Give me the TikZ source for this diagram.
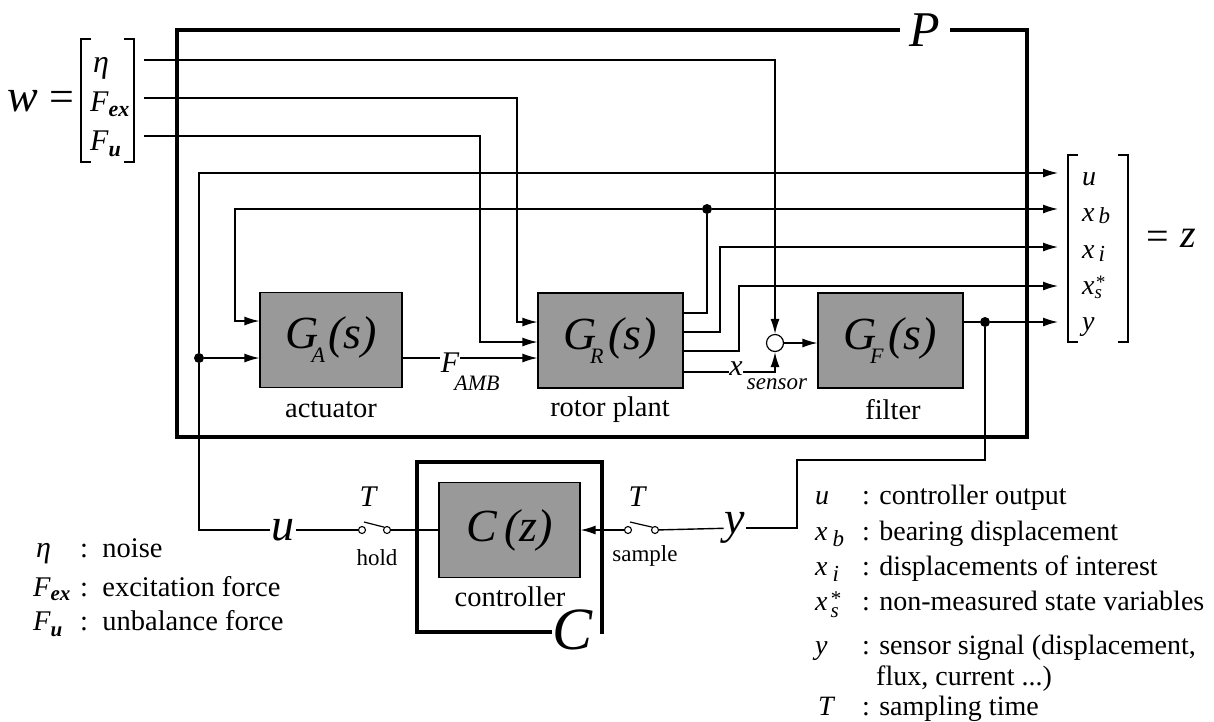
\documentclass[tikz,border=0pt]{standalone}
\usepackage{fontspec}
\setmainfont{Liberation Serif}
\usetikzlibrary{arrows.meta}
\newcommand\fsz[1]{\fontsize{#1}{#1}\selectfont}
\newcommand\lsub[3]{\raisebox{#1}{\fsz{#2}#3}}
\begin{document}
\begin{tikzpicture}[x=1pt,y=-1pt,
 ln/.style={line width=1.4pt},
 arr/.style={line width=1.4pt,-{Latex[length=15pt,width=9pt]}},
 blk/.style={draw,line width=1.2pt,fill=black!40,minimum width=145pt,minimum height=95pt,inner sep=0pt},
 frm/.style={line width=3.3pt},
 txt/.style={inner sep=0pt,font=\fsz{28.5}},
 dotn/.style={circle,fill=black,inner sep=0pt,minimum size=10pt},
 ctc/.style={circle,draw,line width=1.1pt,fill=white,inner sep=0pt,minimum size=7pt},
 lab/.style={inner sep=1.5pt,fill=white},
 brk/.style={line width=1.3pt},
]
\useasboundingbox (0,0) rectangle (1214,721);

% ---------- frame P ----------
\node[inner xsep=10pt,inner ysep=0pt,font=\fsz{50}\itshape] (Plab) at (925,30) {P};
\draw[frm] (Plab.west) -- (177,30) |- (1027,437) |- (Plab.east);

% ---------- blocks ----------
\node[blk,minimum width=142pt] (GA) at (331,340) {\fsz{46}\itshape G\kern-7pt\lsub{-14pt}{22}{A}\kern3pt(s)};
\node[blk] (GR) at (610.5,340.5) {\fsz{46}\itshape G\kern-7pt\lsub{-14pt}{22}{R}\kern5pt(s)};
\node[blk] (GF) at (890.5,340.5) {\fsz{46}\itshape G\kern-7pt\lsub{-14pt}{22}{F}\kern5pt(s)};
\node[circle,draw,line width=1.2pt,fill=white,minimum size=17pt,inner sep=0pt] (sum) at (775,343) {};

\node[txt] (capA) at (331,410) {actuator};
\node[txt] (capR) at (610,410) {rotor plant};
\node[txt] (capF) at (893,410) {filter};

% ---------- w vector ----------
\node[inner sep=0pt,font=\fsz{46}\itshape] (wlab) at (23,101) {w};
\node[inner sep=0pt,font=\fsz{44}] (weq) at (62,101) {=};
\draw[brk] (91,39) -- (81,39) -- (81,162) -- (91,162);
\draw[brk] (124,39) -- (134,39) -- (134,162) -- (124,162);
\node[inner sep=0pt,anchor=base west,font=\fsz{32}\itshape] (weta) at (93,72) {η};
\node[inner sep=0pt,anchor=base west,font=\fsz{30}\itshape] (wfex) at (90,111) {F\lsub{-5pt}{22}{\bfseries ex}};
\node[inner sep=0pt,anchor=base west,font=\fsz{30}\itshape] (wfu) at (90,150) {F\lsub{-6pt}{22}{\bfseries u}};
\coordinate (etaS) at (144,60);
\coordinate (fexS) at (144,98);
\coordinate (fuS) at (144,136);

% ---------- z vector ----------
\draw[brk] (1078,155) -- (1068,155) -- (1068,342) -- (1078,342);
\draw[brk] (1118,155) -- (1128,155) -- (1128,342) -- (1118,342);
\node[inner sep=0pt,anchor=base west,font=\fsz{28}\itshape] (zu) at (1082,185) {u};
\node[inner sep=0pt,anchor=base west,font=\fsz{28}\itshape] (zxb) at (1082,221) {x\kern4pt\lsub{-2pt}{23}{b}};
\node[inner sep=0pt,anchor=base west,font=\fsz{28}\itshape] (zxi) at (1082,258) {x\kern4pt\lsub{-3pt}{23}{i}};
\node[inner sep=0pt,anchor=base west,font=\fsz{28}\itshape] (zxs) at (1082,294) {x\lsub{-4pt}{19}{s}\kern-7pt\lsub{6pt}{19}{*}};
\node[inner sep=0pt,anchor=base west,font=\fsz{28}\itshape] (zy) at (1082,330) {y};
\node[inner sep=0pt,font=\fsz{40}] (zeq) at (1158,240) {=};
\node[inner sep=0pt,font=\fsz{40}\itshape] (zlab) at (1188,238) {z};
\coordinate (zaU) at (1058,173);
\coordinate (zaB) at (1058,209);
\coordinate (zaI) at (1058,247);
\coordinate (zaS) at (1058,286);
\coordinate (zaY) at (1058,322);

% ---------- input connectors ----------
\draw[arr] (etaS) -| (sum.north);
\coordinate (fexD) at (517,322);
\draw[arr] (fexS) -| (fexD) -- (fexD -| GR.west);
\coordinate (fuD) at (480,342);
\draw[arr] (fuS) -| (fuD) -- (fuD -| GR.west);

% F_AMB
\node[lab,inner sep=0.5pt,font=\fsz{30}\itshape] (famb) at (450,363) {F};
\node[inner sep=0pt,font=\fsz{22}\itshape] (fambs) at (477,383) {AMB};
\draw[ln] ([yshift=-18pt]GA.east) -- ([yshift=-18pt]GA.east -| famb.west);
\draw[arr] ([yshift=-18pt]GA.east -| famb.east) -- ([yshift=-17.5pt]GR.west);

% u signal
\node[dotn] (ud) at (199,358) {};
\draw[arr] (ud) -- (ud -| GA.west);
\draw[arr] (ud) |- (zaU);

% x_b
\node[dotn] (xbd) at (707,209) {};
\draw[ln] ([yshift=27.5pt]GR.east) -| (xbd);
\draw[arr] (xbd) -- (zaB);
\coordinate (xbA) at (235,321);
\draw[arr] (xbd) -| (xbA) -- (xbA -| GA.west);

% x_i
\coordinate (xiB) at (720,247);
\draw[arr] ([yshift=8.5pt]GR.east) -| (xiB) -- (zaI);
% x_s*
\coordinate (xsB) at (739,286);
\draw[arr] ([yshift=-10.5pt]GR.east) -| (xsB) -- (zaS);
% x_sensor
\node[lab,inner sep=0.5pt,font=\fsz{30}\itshape] (xlab) at (736,369) {x};
\node[inner sep=0pt,font=\fsz{23}\itshape] (xsub) at (777,384) {sensor};
\draw[ln] ([yshift=-31.5pt]GR.east) -- ([yshift=-31.5pt]GR.east -| xlab.west);
\draw[arr] ([yshift=-31.5pt]GR.east -| xlab.east) -| (sum.south);
% sum -> filter
\draw[arr] (sum.east) -- (sum.east -| GF.west);
% filter output
\node[dotn] (yd) at (985,322) {};
\draw[ln] ([yshift=18.5pt]GF.east) -- (yd);
\draw[arr] (yd) -- (zaY);

% ---------- controller ----------
\node[blk,minimum width=141pt] (Cz) at (509.5,530) {\fsz{46}\itshape C\,(z)};
\node[txt] (capC) at (510,597) {controller};
\node[inner sep=1pt,font=\fsz{60}\itshape] (Clab) at (573,630) {C};
\draw[frm] (Clab.west |- 0,632) -- (417,632) |- (602,462) -- (602,633.6);

% switches
\node[ctc] (h1) at (362,530) {};
\node[ctc] (h2) at (387,530) {};
\node[ctc] (s1) at (628,530) {};
\node[ctc] (s2) at (655,530) {};
\draw[line width=1.2pt] ([shift={(2,-8)}]h1.center) -- (h2.north west);
\draw[line width=1.2pt] ([shift={(2,-8)}]s1.center) -- (s2.north west);
\node[inner sep=0pt,font=\fsz{30}\itshape] (hT) at (368,497) {T};
\node[inner sep=0pt,font=\fsz{30}\itshape] (sT) at (637,497) {T};
\node[inner sep=0pt,font=\fsz{23}] (hlab) at (377,558) {hold};
\node[inner sep=0pt,font=\fsz{23}] (slab) at (645,556) {sample};

\node[lab,inner sep=1pt,font=\fsz{46}\itshape] (ulab) at (283,530) {u};
\node[lab,inner sep=1pt,font=\fsz{46}\itshape] (ylab) at (735,528) {y};

\draw[ln] (Cz.west) -- (h2);
\draw[ln] (h1) -- (ulab);
\draw[ln] (ulab) -| (ud);
\draw[arr] (s1) -- (s1 -| Cz.east);
\draw[ln] (s2) -- (ylab);
\coordinate (fb1) at (797,460);
\draw[ln] (yd) |- (fb1) |- (ylab);

% ---------- legend left ----------
\node[inner sep=0pt,anchor=base west,font=\fsz{30}\itshape] (leta) at (36,557) {η};
\node[inner sep=0pt,anchor=base west,font=\fsz{28.5}] (leta2) at (80,557) {:\ \ noise};
\node[inner sep=0pt,anchor=base west,font=\fsz{28.5}\itshape] (lfex) at (33,596) {F\lsub{-4pt}{21}{\bfseries ex}};
\node[inner sep=0pt,anchor=base west,font=\fsz{28.5}] (lfex2) at (80,596) {:\ \ excitation force};
\node[inner sep=0pt,anchor=base west,font=\fsz{28.5}\itshape] (lfu) at (33,630) {F\lsub{-6pt}{21}{\bfseries u}};
\node[inner sep=0pt,anchor=base west,font=\fsz{28.5}] (lfu2) at (80,630) {:\ \ unbalance force};

% ---------- legend right ----------
\node[inner sep=0pt,anchor=base west,font=\fsz{28}\itshape] (ru) at (815,504) {u};
\node[inner sep=0pt,anchor=base west,font=\fsz{28}] (ru2) at (862,504) {: controller output};
\node[inner sep=0pt,anchor=base west,font=\fsz{28}\itshape] (rxb) at (815,540) {x\kern5pt\lsub{-6pt}{23}{b}};
\node[inner sep=0pt,anchor=base west,font=\fsz{28}] (rxb2) at (862,540) {: bearing displacement};
\node[inner sep=0pt,anchor=base west,font=\fsz{28}\itshape] (rxi) at (815,575) {x\kern5pt\lsub{-6pt}{23}{i}};
\node[inner sep=0pt,anchor=base west,font=\fsz{28}] (rxi2) at (862,575) {: displacements of interest};
\node[inner sep=0pt,anchor=base west,font=\fsz{28}\itshape] (rxs) at (815,610) {x\kern3pt\lsub{-7pt}{21}{s}\kern-9pt\lsub{5pt}{21}{*}};
\node[inner sep=0pt,anchor=base west,font=\fsz{28}] (rxs2) at (862,610) {: non-measured state variables};
\node[inner sep=0pt,anchor=base west,font=\fsz{28}\itshape] (ry) at (815,654) {y};
\node[inner sep=0pt,anchor=base west,font=\fsz{28}] (ry2) at (862,654) {: sensor signal (displacement,};
\node[inner sep=0pt,anchor=base west,font=\fsz{28}] (ry3) at (876,685) {flux, current ...)};
\node[inner sep=0pt,anchor=base west,font=\fsz{28}\itshape] (rT) at (818,715) {T};
\node[inner sep=0pt,anchor=base west,font=\fsz{28}] (rT2) at (862,715) {: sampling time};
\end{tikzpicture}
\end{document}
